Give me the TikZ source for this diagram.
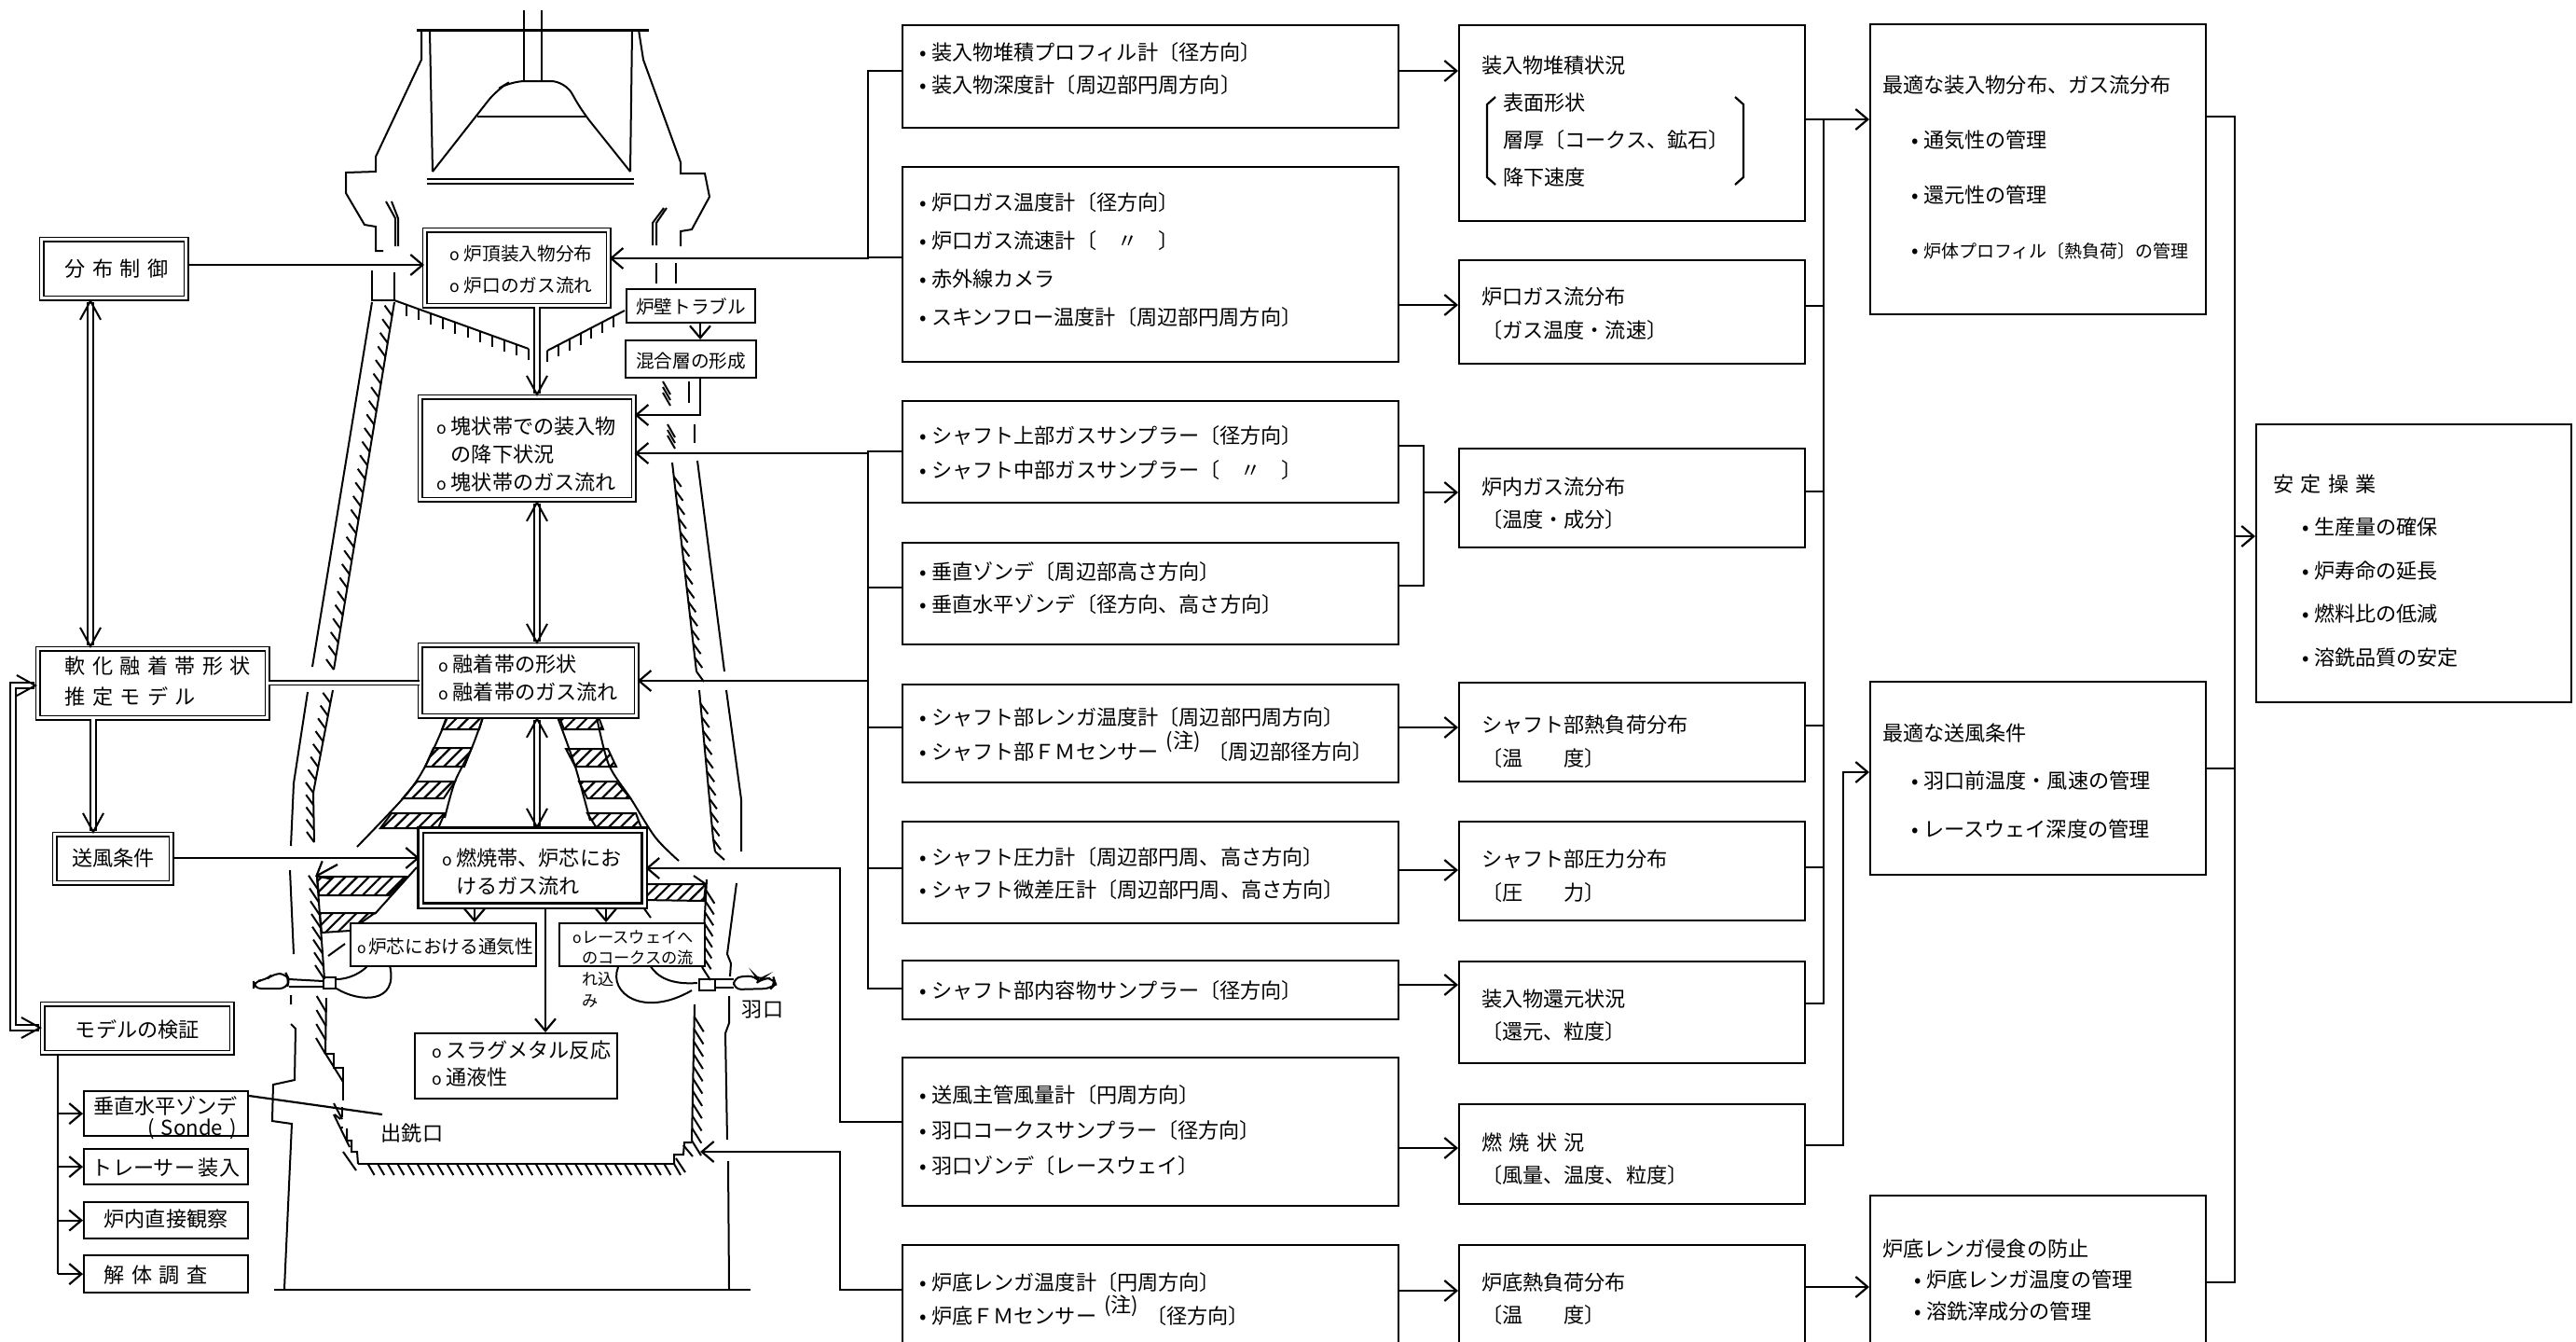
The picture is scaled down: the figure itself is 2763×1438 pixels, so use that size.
\documentclass[tikz,border=0pt]{standalone}
\usepackage{fontspec}
\setmainfont{Noto Sans CJK JP}
\usetikzlibrary{arrows.meta, calc, backgrounds, patterns.meta}

\newcommand{\bul}{\makebox[1.3mm][l]{•}}
\newcommand{\cir}{\makebox[1.5mm][l]{\fontsize{5}{5}\selectfont o}}
\newcommand{\chu}{\hspace{.8mm}\raisebox{1.2mm}{(注)}\hspace{.8mm}}
\newcommand{\spr}[2]{\makebox[#1mm][s]{#2}}
% wall line with slanted ticks
\newcommand{\hatchwall}[4]{%
	\draw[wall] (#1) -- (#2);
	\foreach \t in {1,...,#3} {\draw[wall] ($(#1)!\t/#3!(#2)$) -- ++(#4);}}

\begin{document}
\begin{tikzpicture}[x=0.1mm, y=-0.1mm,
	caja/.style={rectangle, draw, line width=.22mm, fill=white, anchor=north west, align=left,
		inner ysep=0pt, font=\fontsize{6.3}{3.5mm}\selectfont},
	dbox/.style={caja, line width=.17mm, double, double distance=.28mm},
	medida/.style={caja, text width=49.6mm, inner xsep=1.8mm},
	estado/.style={caja, text width=32.3mm, inner xsep=2.4mm},
	kanri/.style={caja, text width=33.4mm, inner xsep=1.3mm},
	sz/.style 2 args={text height=#1mm, text depth=#2mm},
	wd/.style 2 args={text width=#1mm, inner xsep=#2mm},
	pitch/.style={font=\fontsize{6.3}{#1mm}\selectfont},
	small/.style={font=\fontsize{5.6}{#1mm}\selectfont},
	rotulo/.style={inner sep=0pt, font=\fontsize{6.3}{3.5mm}\selectfont},
	ln/.style={line width=.22mm},
	fl/.style={ln, -{Straight Barb[length=1.3mm,width=2.2mm]}},
	dfl/.style={line width=.17mm, double, double distance=.42mm,
		-{Straight Barb[length=2mm,width=2.2mm,line width=.2mm]}},
	dfb/.style={dfl, {Straight Barb[length=2mm,width=2.2mm,line width=.2mm]}-{Straight Barb[length=2mm,width=2.2mm,line width=.2mm]}},
	wall/.style={line width=.2mm},
	hatched/.style={wall, pattern={Lines[angle=45,distance=.9mm,line width=.22mm]}}]

	\useasboundingbox (0,0) rectangle (2763,1438);

	% left column
	\node[dbox, wd={14.5}{.5}, align=center, sz={4.0}{2.3}] (bunpu) at (44,256) {\spr{10.5}{分 布 制 御}};
	\node[dbox, wd={23.6}{.5}, align=center, pitch=3.3, sz={2.7}{4.7}] (nanka) at (40,695) {\spr{18.8}{軟 化 融 着 帯 形 状}\\\spr{18.8}{推 定 モ デ ル}};
	\node[dbox, wd={11.5}{.5}, align=center, sz={3.4}{1.8}] (sofu) at (58,894) {送風条件};
	\node[dbox, wd={19.3}{.5}, align=center, sz={3.6}{1.6}] (kensho) at (45,1076) {モデルの検証};
	\node[caja, wd={15.6}{1}, pitch=1.9, sz={2.4}{2.4}] (sonde) at (89,1169) {垂直水平ゾンデ\\\hspace*{5.8mm}( Sonde )};
	\node[caja, wd={16.4}{.6}, align=center, sz={2.8}{1.0}] (tracer) at (89,1231) {\mbox{トレーサー\,装入}};
	\node[caja, wd={15.6}{1}, align=center, sz={2.6}{1.3}] (kansatsu) at (89,1288) {炉内直接観察};
	\node[caja, wd={15.6}{1}, align=center, sz={2.9}{1.1}] (kaitai) at (89,1345) {\spr{13.3}{解 体 調 査}};

	% furnace boxes
	\node[dbox, wd={14.3}{2.7}, small=3.4, sz={3.3}{4.8}] (rocho) at (455,246) {\cir 炉頂装入物分布\\\cir 炉口のガス流れ};
	\node[caja, wd={13.4}{.2}, small=3, align=center, sz={2.6}{1.0}] (rohekit) at (671,309) {炉壁トラブル};
	\node[caja, wd={13.6}{.2}, small=3, align=center, sz={2.9}{1.1}] (kongo) at (670,364) {混合層の形成};
	\node[dbox, wd={19.3}{1.8}, pitch=3.0, sz={4.0}{7.0}] (kaijo) at (450,425) {\cir 塊状帯での装入物\\\hspace*{1.5mm}の降下状況\\\cir 塊状帯のガス流れ};
	\node[dbox, wd={19.2}{2.0}, pitch=3.0, sz={2.9}{4.7}] (yuchaku) at (450,691) {\cir 融着帯の形状\\\cir 融着帯のガス流れ};
	\node[dbox, wd={19.4}{2.3}, pitch=3.0, line width=.25mm, sz={3.8}{4.3}] (nensho) at (450,889) {\cir 燃焼帯、炉芯にお\\\hspace*{1.5mm}けるガス流れ};
	\node[caja, wd={18.5}{.7}, small=3, sz={3.2}{1.4}] (roshin) at (375,989) {\makebox[1.2mm][l]{\fontsize{4.5}{5}\selectfont o}炉芯における通気性};
	\node[caja, wd={12.8}{1.4}, font=\fontsize{4.9}{2.27mm}\selectfont, sz={2.1}{2.5}] (raceway) at (599,989) {\makebox[1mm][l]{\fontsize{4.5}{5}\selectfont o}レースウェイへ\\\hspace*{1mm}のコークスの流\\\hspace*{1mm}れ込\\\hspace*{1mm}み};
	\node[caja, wd={18.1}{1.8}, pitch=2.9, sz={2.6}{4.4}] (slag) at (444,1107) {\cir スラグメタル反応\\\cir 通液性};
	\node[rotulo] (haguchi) at (818,1083) {羽口};
	\node[rotulo] (deguchi) at (442,1215) {出銑口};

	% measurements
	\node[medida, sz={3.7}{7.3}] (sens1) at (967,26) {\bul 装入物堆積プロフィル計〔径方向〕\\\bul 装入物深度計〔周辺部円周方向〕};
	\node[medida, pitch=4.1, sz={4.6}{16.3}] (sens2) at (967,178) {\bul 炉口ガス温度計〔径方向〕\\\bul 炉口ガス流速計〔　〃　〕\\\bul 赤外線カメラ\\\bul スキンフロー温度計〔周辺部円周方向〕};
	\node[medida, pitch=3.7, sz={4.5}{6.4}] (sens3) at (967,429) {\bul シャフト上部ガスサンプラー〔径方向〕\\\bul シャフト中部ガスサンプラー〔　〃　〕};
	\node[medida, sz={3.9}{7.0}] (sens4) at (967,581) {\bul 垂直ゾンデ〔周辺部高さ方向〕\\\bul 垂直水平ゾンデ〔径方向、高さ方向〕};
	\node[medida, pitch=3.7, sz={4.3}{6.2}] (sens5) at (967,733) {\bul シャフト部レンガ温度計〔周辺部円周方向〕\\\bul シャフト部ＦＭセンサー\chu〔周辺部径方向〕};
	\node[medida, sz={4.6}{6.3}] (sens6) at (967,880) {\bul シャフト圧力計〔周辺部円周、高さ方向〕\\\bul シャフト微差圧計〔周辺部円周、高さ方向〕};
	\node[medida, sz={4.0}{2.3}] (sens7) at (967,1029) {\bul シャフト部内容物サンプラー〔径方向〕};
	\node[medida, pitch=3.8, sz={4.8}{11.1}] (sens8) at (967,1133) {\bul 送風主管風量計〔円周方向〕\\\bul 羽口コークスサンプラー〔径方向〕\\\bul 羽口ゾンデ〔レースウェイ〕};
	\node[medida, pitch=2.9, sz={4.8}{6.3}] (sens9) at (967,1334) {\bul 炉底レンガ温度計〔円周方向〕\\\bul 炉底ＦＭセンサー\chu〔径方向〕};

	% conditions
	\node[estado, pitch=4.0, sz={5.1}{15.9}] (jokyo1) at (1564,26) {装入物堆積状況\\\hspace*{2.3mm}表面形状\\\hspace*{2.3mm}層厚〔コークス、鉱石〕\\\hspace*{2.3mm}降下速度};
	\node[estado, pitch=3.6, sz={4.7}{6.4}] (jokyo2) at (1564,278) {炉口ガス流分布\\〔ガス温度・流速〕};
	\node[estado, pitch=3.5, sz={4.9}{5.7}] (jokyo3) at (1564,480) {炉内ガス流分布\\〔温度・成分〕};
	\node[estado, pitch=3.6, sz={5.3}{5.3}] (jokyo4) at (1564,731) {シャフト部熱負荷分布\\〔温　　度〕};
	\node[estado, pitch=3.6, sz={4.8}{5.8}] (jokyo5) at (1564,880) {シャフト部圧力分布\\〔圧　　力〕};
	\node[estado, pitch=3.5, sz={4.8}{6.1}] (jokyo6) at (1564,1030) {装入物還元状況\\〔還元、粒度〕};
	\node[estado, pitch=3.5, sz={4.9}{5.8}] (jokyo7) at (1564,1183) {\spr{15.5}{燃 焼 状 況}\\〔風量、温度、粒度〕};
	\node[estado, pitch=3.5, sz={4.8}{6.2}] (jokyo8) at (1564,1334) {炉底熱負荷分布\\〔温　　度〕};

	% management
	\node[kanri, pitch=5.9, sz={7.3}{23.8}] (kanri1) at (2005,25) {最適な装入物分布、ガス流分布\\\hspace*{3.1mm}\bul 通気性の管理\\\hspace*{3.1mm}\bul 還元性の管理\\\hspace*{3.1mm}\bul {\fontsize{5.4}{5.9mm}\selectfont 炉体プロフィル〔熱負荷〕の管理}};
	\node[kanri, pitch=5.15, sz={6.3}{14.4}] (kanri2) at (2005,730) {最適な送風条件\\\hspace*{3.1mm}\bul 羽口前温度・風速の管理\\\hspace*{3.1mm}\bul レースウェイ深度の管理};
	\node[kanri, pitch=3.35, sz={6.5}{10.0}] (kanri3) at (2005,1281) {炉底レンガ侵食の防止\\\hspace*{3.4mm}\bul 炉底レンガ温度の管理\\\hspace*{3.4mm}\bul 溶銑滓成分の管理};
	\node[caja, wd={30.2}{1.8}, pitch=4.65, sz={7.2}{22.6}] (antei) at (2419,454) {\spr{13.4}{安 定 操 業}\\\hspace*{3.1mm}\bul 生産量の確保\\\hspace*{3.1mm}\bul 炉寿命の延長\\\hspace*{3.1mm}\bul 燃料比の低減\\\hspace*{3.1mm}\bul 溶銑品質の安定};

	% big brackets
	\draw[ln] (1604,104) -- (1595,112) -- (1595,190) -- (1604,198);
	\draw[ln] (1861,104) -- (1870,112) -- (1870,190) -- (1861,198);

	\coordinate (busL) at (931,0);
	\coordinate (busH) at (901,0);
	\coordinate (joinC) at (1527,0);
	\coordinate (busR) at (1956,0);
	\coordinate (busS) at (1977,0);
	\coordinate (busA) at (2397,0);
	\coordinate (busM) at (62,0);
	\coordinate (railN) at (14,0);
	\coordinate (tapend) at (410,1195);
	\coordinate (hearth) at (751,1235);

	% left links
	\draw[fl] (bunpu.east |- 0,284) -- (rocho.west |- 0,284);
	\draw[dfb] (bunpu.south -| 97,0) -- (nanka.north -| 97,0);
	\draw[line width=.17mm, double, double distance=.3mm] (nanka.east |- 0,732) -- (yuchaku.west |- 0,732);
	\draw[dfl] (nanka.south -| 100,0) -- (sofu.north -| 100,0);
	\draw[fl] (sofu.east |- 0,920) -- (nensho.west |- 0,920);
	\draw[dfb] (nanka.west |- 0,735) -- (railN |- 0,735) -- (railN |- 0,1102) -- (kensho.west |- 0,1102);
	\draw[ln] (kensho.south -| busM) -- (busM |- kaitai.west);
	\draw[fl] (busM |- sonde.west) -- (sonde.west);
	\draw[fl] (busM |- tracer.west) -- (tracer.west);
	\draw[fl] (busM |- kansatsu.west) -- (kansatsu.west);
	\draw[fl] (busM |- kaitai.west) -- (kaitai.west);
	\draw[ln] (sonde.east |- 0,1175) -- (tapend);

	% furnace links
	\draw[dfl] (rocho.south -| 576,0) -- (kaijo.north -| 576,0);
	\draw[dfb] (kaijo.south -| 576,0) -- (yuchaku.north -| 576,0);
	\draw[dfb] (yuchaku.south -| 576,0) -- (nensho.north -| 576,0);
	\draw[fl] (rohekit.south -| 751,0) -- (kongo.north -| 751,0);
	\draw[fl] (kongo.south -| 751,0) -- (751,445) -- (kaijo.east |- 0,445);
	\draw[fl] (nensho.south -| 509,0) -- (roshin.north -| 509,0);
	\draw[fl] (nensho.south -| 650,0) -- (raceway.north -| 650,0);
	\draw[fl] (nensho.south -| 585,0) -- (slag.north -| 585,0);

	% measurement links
	\draw[fl] (sens1.west |- 0,76) -- (busL |- 0,76) -- (busL |- 0,277) -- (rocho.east |- 0,277);
	\draw[ln] (sens2.west |- 0,276) -- (busL |- 0,276);
	\draw[fl] (busL |- 0,486) -- (kaijo.east |- 0,486);
	\draw[ln] (sens3.west |- 0,484) -- (busL |- 0,484) -- (busL |- 0,1060) -- (sens7.west |- 0,1060);
	\draw[ln] (sens4.west |- 0,630) -- (busL |- 0,630);
	\draw[ln] (sens5.west |- 0,780) -- (busL |- 0,780);
	\draw[ln] (sens6.west |- 0,931) -- (busL |- 0,931);
	\draw[fl] (busL |- 0,730) -- (yuchaku.east |- 0,730);
	\draw[fl] (sens8.west |- 0,1203) -- (busH |- 0,1203) -- (busH |- 0,931) -- (nensho.east |- 0,931);
	\draw[fl] (sens9.west |- 0,1383) -- (busH |- 0,1383) -- (busH |- 0,1235) -- (hearth);

	\draw[fl] (sens1.east |- 0,76) -- (jokyo1.west |- 0,76);
	\draw[fl] (sens2.east |- 0,327) -- (jokyo2.west |- 0,327);
	\draw[ln] (sens3.east |- 0,478) -- (joinC |- 0,478) -- (joinC |- 0,628) -- (sens4.east |- 0,628);
	\draw[fl] (joinC |- 0,528) -- (jokyo3.west |- 0,528);
	\draw[fl] (sens5.east |- 0,780) -- (jokyo4.west |- 0,780);
	\draw[fl] (sens6.east |- 0,933) -- (jokyo5.west |- 0,933);
	\draw[fl] (sens7.east |- 0,1056) -- (jokyo6.west |- 0,1056);
	\draw[fl] (sens8.east |- 0,1231) -- (jokyo7.west |- 0,1231);
	\draw[fl] (sens9.east |- 0,1384) -- (jokyo8.west |- 0,1384);

	% condition links
	\draw[fl] (jokyo1.east |- 0,128) -- (kanri1.west |- 0,128);
	\draw[ln] (busR |- 0,128) -- (busR |- 0,1076) -- (jokyo6.east |- 0,1076);
	\draw[ln] (jokyo2.east |- 0,328) -- (busR |- 0,328);
	\draw[ln] (jokyo3.east |- 0,527) -- (busR |- 0,527);
	\draw[ln] (jokyo4.east |- 0,778) -- (busR |- 0,778);
	\draw[ln] (jokyo5.east |- 0,930) -- (busR |- 0,930);
	\draw[fl] (jokyo7.east |- 0,1228) -- (busS |- 0,1228) -- (busS |- 0,828) -- (kanri2.west |- 0,828);
	\draw[fl] (jokyo8.east |- 0,1380) -- (kanri3.west |- 0,1380);
	\draw[ln] (kanri1.east |- 0,125) -- (busA |- 0,125) -- (busA |- 0,1375) -- (kanri3.east |- 0,1375);
	\draw[ln] (kanri2.east |- 0,824) -- (busA |- 0,824);
	\draw[fl] (busA |- 0,575) -- (antei.west |- 0,575);

	% furnace profile
	\begin{scope}[on background layer]
		% top
		\draw[wall] (562,11) -- (562,87) (581,11) -- (581,87);
		\draw[line width=.3mm] (447,32) -- (696,32);
		\draw[wall] (461,34) -- (464,184) (678,34) -- (676,184);
		\draw[wall, rounded corners=1.5mm] (464,184) -- (533,96) -- (548,87) -- (606,87) -- (624,119) -- (676,184);
		\draw[wall] (512,125) -- (628,125);
		\draw[wall] (458,192) -- (680,192) (458,197) -- (680,197);
		\draw[wall] (452,32) -- (452,64) -- (403,168) -- (403,184) -- (371,185) -- (371,207) -- (391,241) -- (403,243) -- (403,269) -- (411,269);
		\draw[wall] (685,32) -- (690,64) -- (730,174) -- (730,186) -- (756,186) -- (761,211) -- (742,246) -- (730,248) -- (730,264);
		\draw[wall] (414,216) -- (424,234) -- (424,264) (420,216) -- (427,234) -- (427,264);
		\draw[wall] (712,223) -- (700,239) -- (700,263) (715,223) -- (704,239) -- (704,263);
		\draw[wall] (399,290) -- (399,322) -- (423,322) -- (423,292);
		\hatchwall{423,322}{567,374}{11}{0,12}
		\hatchwall{670,333}{587,376}{7}{0,12}
		\draw[wall] (704,282) -- (704,304) (725,282) -- (725,304);
		% shaft
		\draw[wall] (399,324) -- (335,715) (330,742) -- (315,840) -- (312,907);
		\hatchwall{423,324}{358,718}{27}{-8,-11}
		\hatchwall{357,740}{336,850}{8}{-8,-11}
		\hatchwall{336,850}{337,903}{4}{-8,-11}
		\foreach \y in {409,415,421} {\draw[wall] (711,\y) -- (719,\y+14);}
		\draw[wall] (739,409) -- (739,432);
		\foreach \y in {455,461,467} {\draw[wall] (716,\y) -- (724,\y+14);}
		\draw[wall] (745,455) -- (745,475);
		\hatchwall{721,496}{747,720}{15}{8,11}
		\draw[wall] (748,494) -- (777,720) (779,740) -- (795,857) -- (795,913);
		\hatchwall{750,740}{765,900}{11}{8,11}
		\hatchwall{765,900}{767,913}{1}{10,9}
		% cohesive zone
		\draw[hatched] (479,769) -- (518,769) -- (514,782) -- (474,782) -- cycle;
		\draw[hatched] (465,802) -- (506,802) -- (498,822) -- (456,822) -- cycle;
		\draw[hatched] (447,838) -- (488,838) -- (476,856) -- (432,856) -- cycle;
		\draw[hatched] (420,872) -- (477,872) -- (470,888) -- (408,888) -- cycle;
		\draw[hatched] (600,769) -- (642,769) -- (647,782) -- (605,782) -- cycle;
		\draw[hatched] (607,803) -- (652,803) -- (661,822) -- (617,822) -- cycle;
		\draw[hatched] (621,838) -- (661,838) -- (676,856) -- (630,856) -- cycle;
		\draw[hatched] (630,872) -- (682,872) -- (688,888) -- (640,888) -- cycle;
		\draw[wall] plot[smooth] coordinates {(518,769) (506,802) (488,838) (477,877)};
		\draw[wall] plot[smooth] coordinates {(480,769) (457,820) (435,853) (383,908)};
		\draw[wall] plot[smooth] coordinates {(598,769) (617,822) (633,880)};
		\draw[wall] plot[smooth] coordinates {(640,769) (653,820) (677,857) (703,898) (728,923)};
		% hearth, left
		\draw[wall] (311,933) -- (315,1023) (312,1067) -- (312,1077);
		\draw[wall] (312,1098) -- (317,1103) -- (316,1158) -- (293,1163) -- (292,1202) -- (313,1205) -- (305,1382);
		\draw[line width=.25mm] (294,1383) -- (805,1383);
		\hatchwall{340,940}{348,1050}{8}{-10,-15}
		\hatchwall{350,1070}{349,1130}{4}{-10,-17}
		\draw[wall] (349,1130) -- (358,1130) -- (358,1145) -- (368,1145) -- (368,1180);
		\draw[wall] (348,1128) -- (368,1160) (358,1183) -- (367,1200) (359,1195) -- (365,1200);
		\draw[wall, dashed] (367,1187) -- (367,1210);
		\draw[wall] (372,1210) -- (372,1223) -- (377,1223) -- (377,1235) -- (383,1235) -- (384,1248);
		\draw[wall] (358,1195) -- (375,1230) (368,1235) -- (382,1255);
		\hatchwall{384,1248}{723,1248}{32}{7,12}
		\draw[wall] (723,1248) -- (723,1238) -- (733,1238) -- (734,1225) -- (742,1225);
		\draw[wall] (725,1242) -- (735,1257) (733,1228) -- (743,1240);
		\hatchwall{745,1077}{742,1223}{11}{10,16}
		\draw[hatched] (340,940) -- (437,940) -- (417,960) -- (342,960) -- cycle;
		\draw[hatched] (343,979) -- (402,979) -- (375,998) -- (345,1000) -- cycle;
		\draw[wall] (447,930) -- (402,980) (352,1025) -- (370,1012);
		% hearth, right
		\draw[hatched] (690,948) -- (757,948) -- (755,966) -- (690,965) -- cycle;
		\draw[wall] (690,973) -- (698,984) (744,939) -- (757,948);
		\draw[fl] (362,927) -- (338,940);
		\hatchwall{758,943}{753,1037}{8}{9,14}
		\draw[wall] (790,947) -- (780,1023) -- (784,1033) -- (783,1047) (782,1068) -- (782,1097) -- (778,1108) -- (780,1222) (781,1245) -- (782,1382);
		% tuyeres
		\draw[wall, rounded corners=.8mm] (272,1052) -- (285,1051) -- (293,1044) -- (307,1044) -- (310,1050) -- (308,1060) -- (272,1060) -- cycle;
		\draw[wall] (310,1050) -- (347,1052) (310,1058) -- (347,1058);
		\draw[wall] (347,1048) rectangle (360,1060);
		\draw[wall] (361,1050) .. controls (374,1050) and (388,1043) .. (395,1035);
		\draw[wall] (361,1060) .. controls (385,1075) and (428,1077) .. (418,1035);
		\draw[wall, rounded corners=.8mm] (787,1048) -- (810,1046) -- (814,1052) -- (818,1049) -- (830,1049) -- (832,1055) -- (827,1060) -- (787,1061) -- cycle;
		\draw[wall] (767,1050) -- (787,1050) (767,1059) -- (787,1059);
		\draw[wall] (750,1050) rectangle (767,1062);
		\draw[wall] (697,1035) .. controls (705,1048) and (720,1056) .. (748,1054);
		\draw[wall] (663,1037) .. controls (652,1065) and (690,1092) .. (742,1062);
	\end{scope}
\end{tikzpicture}
\end{document}
